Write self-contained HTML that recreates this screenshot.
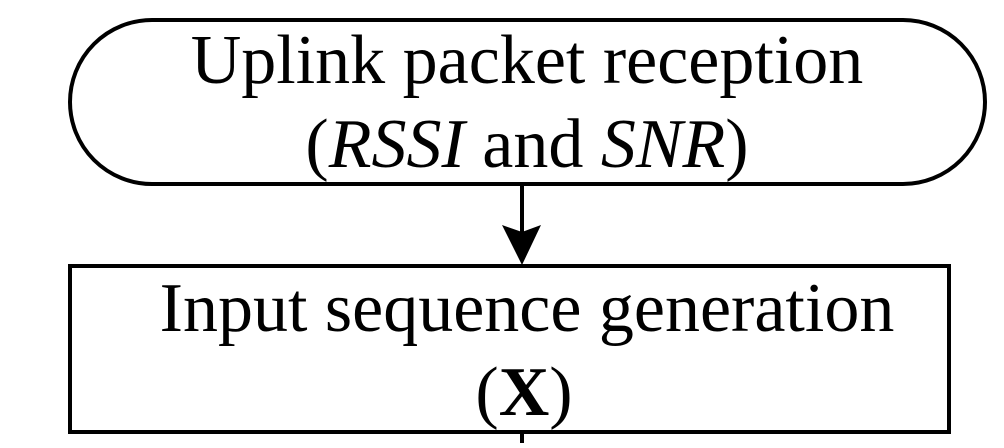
<!DOCTYPE html>
<html><head><meta charset="utf-8"><style>
html,body{margin:0;padding:0;background:#fff;}
body{width:1004px;height:443px;overflow:hidden;}
</style></head><body>
<svg width="1004" height="443" viewBox="0 0 1004 443" xmlns="http://www.w3.org/2000/svg">
<rect x="70" y="20" width="915" height="164" rx="82" ry="82" fill="#fff" stroke="#000" stroke-width="4"/>
<text x="527" y="83" text-anchor="middle" font-family="Liberation Serif, serif" font-size="70">Uplink packet reception</text>
<text x="527" y="167" text-anchor="middle" font-family="Liberation Serif, serif" font-size="70">(<tspan font-style="italic">RSSI</tspan> and <tspan font-style="italic">SNR</tspan>)</text>
<line x1="522" y1="184" x2="522" y2="235" stroke="#000" stroke-width="4"/>
<path d="M502,225 L522,232 L541,225 L522,265 Z" fill="#000"/>
<rect x="70" y="266" width="879" height="166" fill="#fff" stroke="#000" stroke-width="4"/>
<text x="527" y="331" text-anchor="middle" font-family="Liberation Serif, serif" font-size="70">Input sequence generation</text>
<text x="524" y="415" text-anchor="middle" font-family="Liberation Serif, serif" font-size="70">(<tspan font-weight="bold">X</tspan>)</text>
<line x1="522" y1="432" x2="522" y2="443" stroke="#000" stroke-width="4"/>
</svg>
</body></html>
